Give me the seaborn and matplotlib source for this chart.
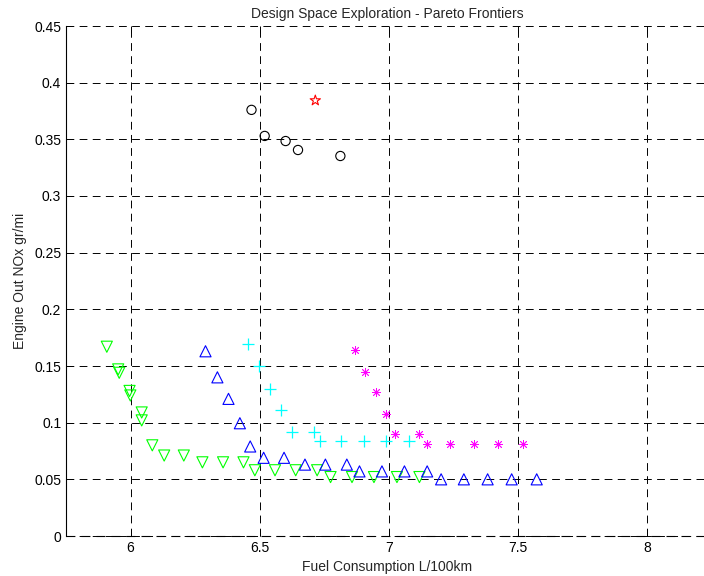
import matplotlib
matplotlib.use("Agg")
import matplotlib.pyplot as plt
import seaborn as sns

# Pareto frontiers
green_x = [5.908, 5.952, 5.956, 5.996, 5.999, 6.043, 6.043, 6.084, 6.130, 6.206, 6.278,
           6.358, 6.437, 6.481, 6.559, 6.639, 6.722, 6.774, 6.857, 6.942, 7.031, 7.118]
green_y = [0.167, 0.147, 0.144, 0.128, 0.124, 0.109, 0.102, 0.080, 0.071, 0.071, 0.065,
           0.065, 0.065, 0.058, 0.058, 0.058, 0.058, 0.052, 0.052, 0.052, 0.052, 0.052]

blue_x = [6.290, 6.336, 6.379, 6.423, 6.463, 6.515, 6.594, 6.675, 6.754, 6.837,
          6.886, 6.973, 7.060, 7.148, 7.202, 7.290, 7.382, 7.475, 7.572]
blue_y = [0.163, 0.140, 0.121, 0.0995, 0.079, 0.069, 0.069, 0.063, 0.063, 0.063,
          0.057, 0.057, 0.057, 0.057, 0.050, 0.050, 0.050, 0.050, 0.050]

cyan_x = [6.455, 6.496, 6.539, 6.581, 6.623, 6.709, 6.734, 6.815, 6.902, 6.987, 7.076]
cyan_y = [0.1695, 0.150, 0.130, 0.111, 0.092, 0.092, 0.084, 0.084, 0.084, 0.084, 0.084]

magenta_x = [6.867, 6.908, 6.951, 6.987, 7.025, 7.115, 7.148, 7.237, 7.329, 7.421, 7.520]
magenta_y = [0.164, 0.145, 0.127, 0.1077, 0.090, 0.090, 0.081, 0.081, 0.081, 0.081, 0.081]

black_x = [6.468, 6.519, 6.600, 6.648, 6.812]
black_y = [0.376, 0.353, 0.3485, 0.3406, 0.3353]

red_x = [6.715]
red_y = [0.3843]

xticks = [6, 6.5, 7, 7.5, 8]
yticks = [0, 0.05, 0.1, 0.15, 0.2, 0.25, 0.3, 0.35, 0.4, 0.45]

sns.set_style("ticks")
plt.rcParams["font.family"] = ["Liberation Sans", "DejaVu Sans"]
plt.rcParams["font.size"] = 10

fig = plt.figure(figsize=(7.04, 5.76), dpi=100)
ax = fig.add_axes([66 / 704, 40 / 576, 642 / 704, 510 / 576])

# filled-shape markers drawn hollow
hollow = [
    (green_x, green_y, "v", "#00ff00", 64),
    (blue_x, blue_y, "^", "#0000ff", 64),
    (black_x, black_y, "o", "black", 44),
    (red_x, red_y, "*", "red", 60),
]
for xs, ys, m, c, s in hollow:
    sns.scatterplot(x=xs, y=ys, marker=m, s=s, color=c, facecolor="none",
                    edgecolor=c, linewidth=0.8, ax=ax, zorder=3)

# line markers
lined = [
    (cyan_x, cyan_y, "+", "#00ffff", 64, 0.9),
    (magenta_x, magenta_y, (8, 2, 0), "#ff00ff", 34, 0.6),
]
for xs, ys, m, c, s, lw in lined:
    sns.scatterplot(x=xs, y=ys, marker=m, s=s, color=c, linewidth=lw, ax=ax, zorder=3)

ax.set_xlim(5.75, 8.235)
ax.set_ylim(0, 0.45)
ax.set_xticks(xticks)
ax.set_xticklabels(["6", "6.5", "7", "7.5", "8"])
ax.set_yticks(yticks)
ax.set_yticklabels(["0", "0.05", "0.1", "0.15", "0.2", "0.25", "0.3", "0.35", "0.4", "0.45"])
ax.tick_params(direction="in", top=True, right=False, length=5, width=0.7,
               labelsize=10, colors="black")
ax.grid(True, color="black", linestyle=(0, (8, 5.5)), linewidth=0.7)
ax.set_axisbelow(True)
for line in ax.get_ygridlines() + ax.get_xgridlines():
    line.set_clip_on(False)
ax.axhline(0, color="black", linestyle=(0, (8, 5.5)), linewidth=0.8, clip_on=False, zorder=1)
for side in ["top", "bottom", "right"]:
    ax.spines[side].set_visible(False)
ax.spines["left"].set_linewidth(0.8)
ax.spines["left"].set_color("black")

ax.set_xlabel("Fuel Consumption L/100km", fontsize=10, labelpad=4)
ax.set_ylabel("Engine Out NOx gr/mi", fontsize=10, labelpad=5)
ax.set_title("Design Space Exploration - Pareto Frontiers", fontsize=10, pad=6)

fig.savefig("out.png", dpi=100)
